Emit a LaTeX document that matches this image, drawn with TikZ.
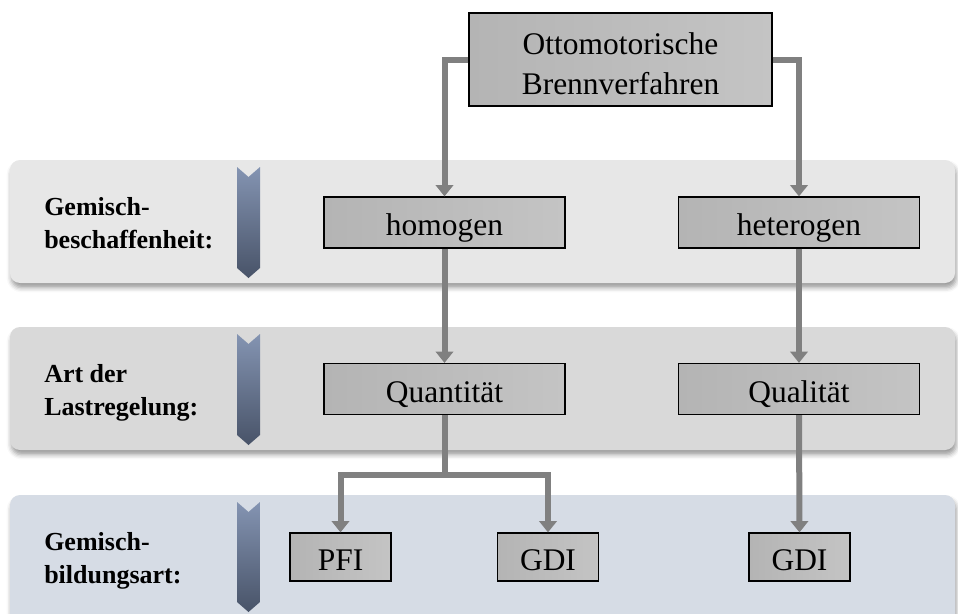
\documentclass[tikz,border=0pt]{standalone}
\usepackage{fontspec}
\setmainfont{Liberation Serif}
\usetikzlibrary{arrows.meta,shadows.blur}

\definecolor{bandA}{HTML}{E7E7E7}
\definecolor{bandB}{HTML}{D9D9D9}
\definecolor{bandC}{HTML}{D6DCE5}
\definecolor{chevTop}{HTML}{8494B2}
\definecolor{chevBot}{HTML}{485368}
\definecolor{wire}{HTML}{808080}
\definecolor{boxDark}{HTML}{B4B4B4}
\definecolor{boxLight}{HTML}{C4C4C4}

\tikzset{
  band/.style={rounded corners=7.5pt, draw=none,
    blur shadow={shadow xshift=1pt, shadow yshift=-3.5pt,
                 shadow blur radius=3.5pt, shadow opacity=40}},
  stage/.style={draw=black, line width=0.9pt, inner sep=0pt,
    left color=boxDark, right color=boxLight,
    font=\fontsize{23.6}{30}\selectfont},
  oneline/.style={stage, text height=21pt, text depth=1.5pt},
  widebox/.style={oneline, minimum width=180.75pt, minimum height=38.25pt},
  smallbox/.style={oneline, minimum width=75.75pt, minimum height=36pt},
  lbl/.style={inner sep=0pt, font=\bfseries\fontsize{19.5}{24.75}\selectfont},
  wireline/.style={draw=wire, line width=4.5pt},
  arr/.style={wireline, -{Triangle[length=8.5pt,width=13pt]}},
}

% downward chevron bar: #1 = top edge, #2 = bottom tip (pixel units)
\newcommand\chevronBar[2]{%
  \shade[top color=chevTop, bottom color=chevBot]
    (237,#1) -- (248.5,#1+10) -- (260,#1) -- (260,#2-10)
    -- (248.5,#2) -- (237,#2-10) -- cycle;}

\begin{document}
\begin{tikzpicture}[x=0.75pt, y=-0.75pt]
  \useasboundingbox (0,0) rectangle (958,614);

  % background bands
  \fill[band, bandA] (10,160) rectangle (955,283);
  \fill[band, bandB] (10,327) rectangle (955,450);
  \fill[band, bandC] (10,495) rectangle (955,650);

  % stage arrows
  \chevronBar{167}{278}
  \chevronBar{334}{445}
  \chevronBar{502}{612}

  % row labels
  \node[lbl, anchor=base west] (labA) at (44,248)
    {\begin{tabular}[b]{@{}l@{}}Gemisch-\\beschaffenheit:\end{tabular}};
  \node[lbl, anchor=base west] (labB) at (44,415)
    {\begin{tabular}[b]{@{}l@{}}Art der\\Lastregelung:\end{tabular}};
  \node[lbl, anchor=base west] (labC) at (44,583)
    {\begin{tabular}[b]{@{}l@{}}Gemisch-\\bildungsart:\end{tabular}};

  % boxes
  \node[stage, text depth=27.8pt, minimum width=227.25pt, minimum height=69.75pt]
    (top) at (620.5,59.5)
    {\begin{tabular}[t]{@{}c@{}}Ottomotorische\\Brennverfahren\end{tabular}};
  \node[widebox] (homo) at (444.5,222.5) {homogen};
  \node[widebox] (hetero) at (799,222.5) {heterogen};
  \node[widebox] (quant) at (444.5,389) {Quantität};
  \node[widebox] (qual) at (799,389) {Qualität};
  \node[smallbox] (pfi) at (340.5,557) {PFI};
  \node[smallbox] (gdiA) at (548,557) {GDI};
  \node[smallbox] (gdiB) at (799.5,557) {GDI};

  % connectors
  \coordinate (split) at (444.5,474.5);
  \draw[arr] (top.west) -| (homo.north);
  \draw[arr] (top.east) -| (hetero.north);
  \draw[arr] (homo.south) -- (quant.north);
  \draw[arr] (hetero.south) -- (qual.north);
  \draw[arr] (quant.south) -- (split) -| (pfi.north);
  \draw[arr] (quant.south) -- (split) -| (gdiA.north);
  \draw[arr] (qual.south) -- (gdiB.north);
\end{tikzpicture}
\end{document}
